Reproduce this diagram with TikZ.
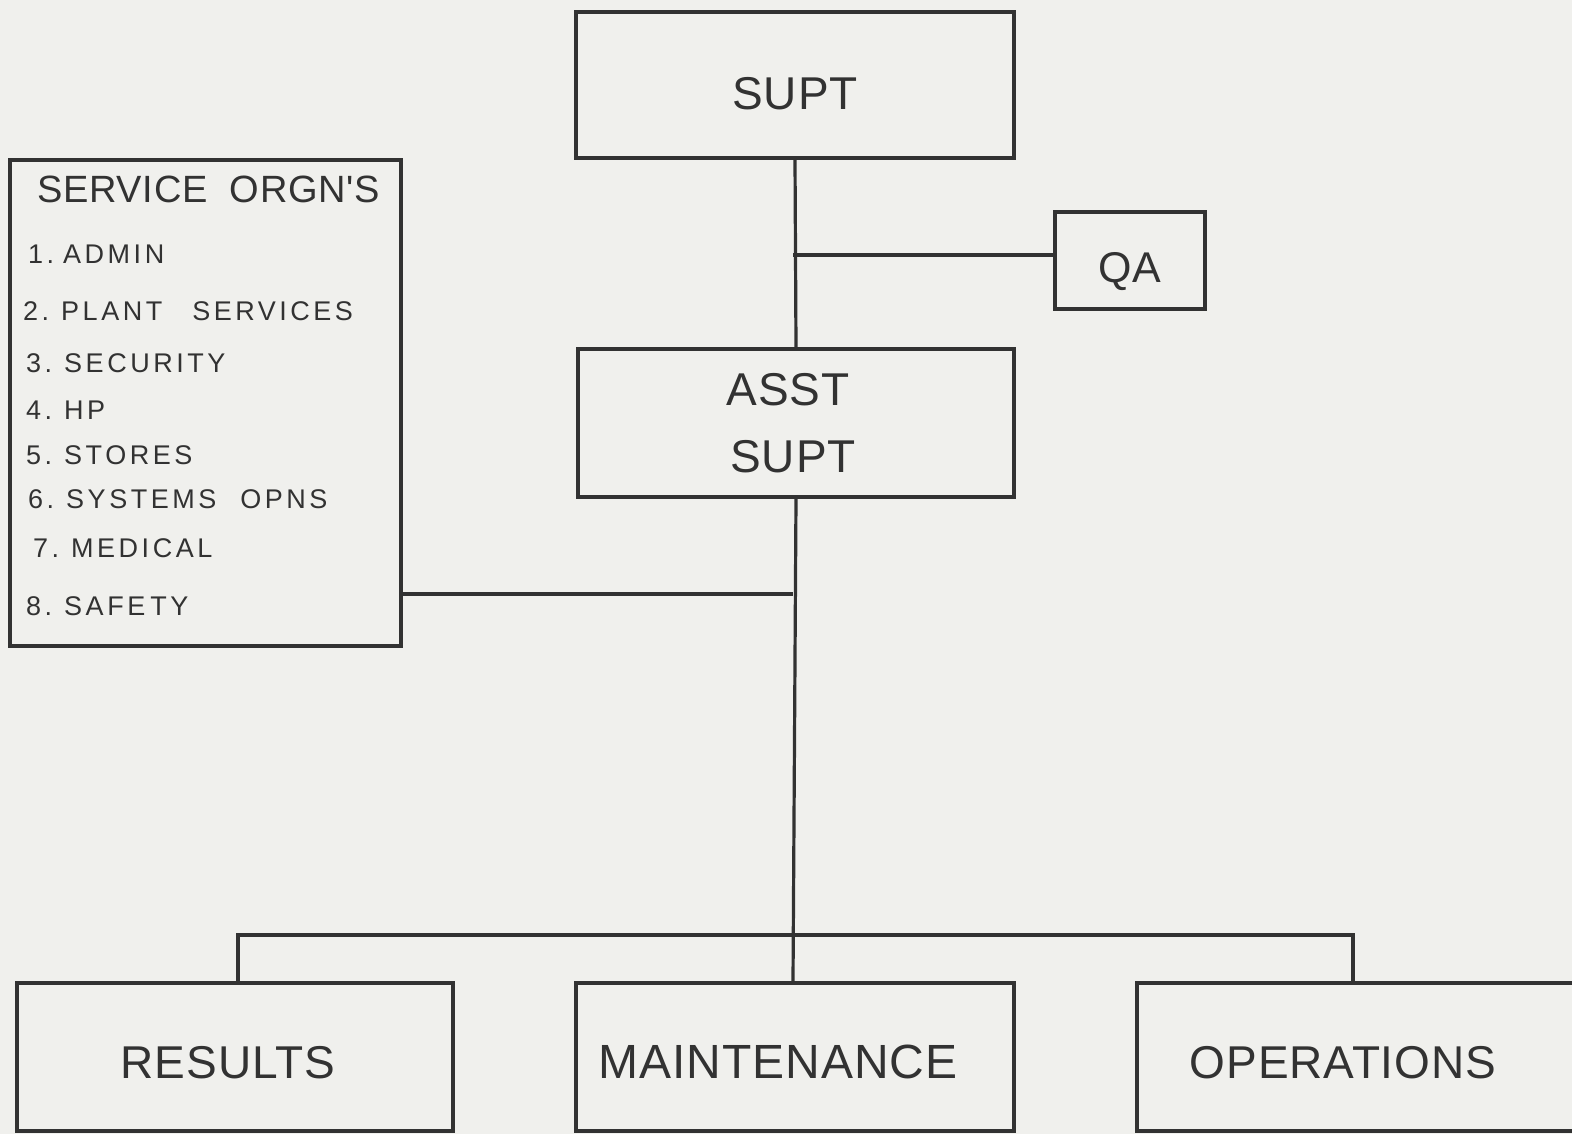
\documentclass[tikz,border=0pt]{standalone}
\usepackage{fontspec}
\setmainfont{Liberation Sans}
\newfontfamily\listfont[LetterSpace=13]{Liberation Sans}
\newfontfamily\bigfont[LetterSpace=2]{Liberation Sans}
\definecolor{bgc}{RGB}{240,240,237}
\definecolor{ink}{RGB}{50,50,50}
\newcommand{\lbl}[2]{\raisebox{-#1}[0pt][0pt]{#2}}
\begin{document}
\begin{tikzpicture}[x=1pt,y=-1pt,
  box/.style={draw=ink,line width=3.2pt,rectangle,inner sep=0pt,text=ink,align=center},
  big/.style={font=\bigfont\fontsize{46}{67}\selectfont},
  item/.style={anchor=base west,inner sep=0pt,text=ink,font=\listfont\fontsize{27}{30}\selectfont},
  conn/.style={draw=ink,line width=3.2pt}]
\clip (0,0) rectangle (1572,1134);
\fill[bgc] (0,0) rectangle (1572,1134);
% boxes
\node[box,big,minimum width=438,minimum height=146] (supt) at (795,85) {\lbl{25pt}{SUPT}};
\node[box,minimum width=150,minimum height=97,font=\bigfont\fontsize{43}{50}\selectfont] (qa) at (1130,260.5) {\lbl{21.5pt}{QA}};
\node[box,big,minimum width=436,minimum height=148] (asst) at (796,423) {\hspace{-16pt}ASST\\\hspace{-6pt}SUPT};
\node[box,minimum width=391,minimum height=486] (svc) at (205.5,403) {};
\node[box,big,minimum width=436,minimum height=148] (results) at (235,1057) {\lbl{21pt}{\hspace{-14pt}RESULTS}};
\node[box,minimum width=438,minimum height=148,font=\bigfont\fontsize{48}{67}\selectfont] (maint) at (795,1057) {\lbl{21pt}{\hspace{-34pt}MAINTENANCE}};
\node[box,big,minimum width=440,minimum height=148] (oper) at (1357,1057) {\lbl{21pt}{\hspace{-28pt}OPERATIONS}};
% service list
\node[item,font=\bigfont\fontsize{38}{44}\selectfont] (svct) at (37,203) {SERVICE\hspace{22pt}ORGN'S};
\node[item] (s1) at (28,263) {1.\hspace{9pt}ADMIN};
\node[item] (s2) at (23,320) {2.\hspace{12pt}PLANT\hspace{30pt}SERVICES};
\node[item] (s3) at (26,372) {3.\hspace{12pt}SECURITY};
\node[item] (s4) at (26,419) {4.\hspace{12pt}HP};
\node[item] (s5) at (26,464) {5.\hspace{12pt}STORES};
\node[item] (s6) at (28,508) {6.\hspace{12pt}SYSTEMS\hspace{24pt}OPNS};
\node[item] (s7) at (33,557) {7.\hspace{12pt}MEDICAL};
\node[item] (s8) at (26,615) {8.\hspace{12pt}SAFE\hspace{5pt}TY};
% junctions
\coordinate (qj) at (793,255);
\coordinate (sj) at (793,594);
\coordinate (bus) at (793,935);
\coordinate (bl) at (238,935);
\coordinate (br) at (1353,935);
% connectors
\draw[conn] (supt.south) -- (asst.north);
\draw[conn] (qj) -- (qa.west |- qj);
\draw[conn] (asst.south) -- (bus |- maint.north);
\draw[conn] (svc.east |- sj) -- (sj);
\draw[conn] (bl |- results.north) -- (bl) -- (br) -- (br |- oper.north);
\end{tikzpicture}
\end{document}
